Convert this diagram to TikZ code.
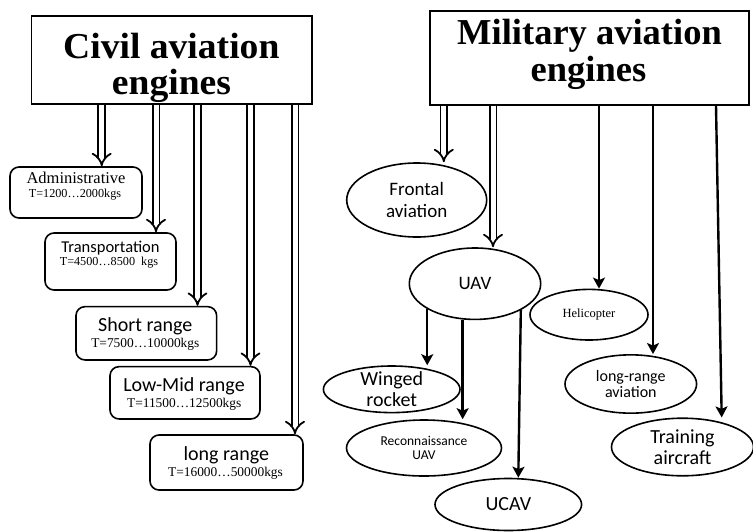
\documentclass[tikz,border=0pt]{standalone}
\usepackage{fontspec}
\usepackage{graphicx}
\setmainfont{Liberation Serif}
\newfontfamily\sansf{Carlito}
\usetikzlibrary{shapes.geometric,arrows.meta}
\begin{document}
\begin{tikzpicture}[x=1pt,y=-1pt,
  titlebox/.style={draw,line width=1.8pt,inner sep=0pt},
  cbox/.style={draw,rounded corners=9pt,line width=1.6pt,inner sep=0pt},
  ell/.style={draw,ellipse,line width=1.6pt,inner sep=0pt},
  darr/.style={double,double distance=5pt,line width=1.8pt,-{Implies[length=7pt,width=17pt]}},
  sarr/.style={line width=2.4pt,-{Stealth[length=11pt,width=12pt,inset=2.5pt]}},
  ttl/.style={anchor=base,inner sep=0pt,font=\fontsize{36.5}{40}\selectfont\bfseries},
  sbig/.style={anchor=base,inner sep=0pt,font=\sansf\fontsize{20}{24}\selectfont},
  tline/.style={anchor=base,inner sep=0pt,font=\fontsize{13.4}{16}\selectfont},
  etext/.style={inner sep=0pt,align=center}
]
\useasboundingbox (0,0) rectangle (753,531);

% ---------- Civil ----------
\node[titlebox,minimum width=280.5pt,minimum height=88pt] (civil) at (171.75,60) {};
\node[ttl] (civilA) at (171.3,58.5) {\scalebox{1.03}[1]{Civil aviation}};
\node[ttl] (civilB) at (171.5,94.5) {\scalebox{1.03}[1]{engines}};

\node[cbox,minimum width=132pt,minimum height=51pt] (admin) at (76,192.5) {};
\node[anchor=base,inner sep=0pt,font=\fontsize{16.5}{18}\selectfont] (adminA) at (76,183) {Administrative};
\node[anchor=base,inner sep=0pt,font=\fontsize{12.2}{14}\selectfont] (adminB) at (75,197) {T=1200…2000kgs};

\node[cbox,minimum width=131pt,minimum height=57pt] (trans) at (110.5,261.5) {};
\node[anchor=base,inner sep=0pt,font=\sansf\fontsize{16.5}{18}\selectfont] (transA) at (110.5,252) {Transportation};
\node[anchor=base,inner sep=0pt,font=\fontsize{12.2}{14}\selectfont] (transB) at (109,265.5) {T=4500…8500\ \ kgs};

\node[cbox,minimum width=140.7pt,minimum height=53.3pt] (short) at (146.3,333.3) {};
\node[sbig] (shortA) at (145.3,331.7) {Short range};
\node[tline] (shortB) at (145.3,347) {T=7500…10000kgs};

\node[cbox,minimum width=150pt,minimum height=52.3pt] (lowmid) at (185,392.8) {};
\node[sbig] (lowA) at (184,391.7) {Low-Mid range};
\node[tline] (lowB) at (184.2,407.7) {T=11500…12500kgs};

\node[cbox,minimum width=153pt,minimum height=55pt] (longr) at (226.5,462.5) {};
\node[sbig] (longA) at (226.3,460.7) {long range};
\node[tline] (longB) at (225.5,476.7) {T=16000…50000kgs};

\coordinate (c1) at (101.7,0);
\coordinate (c2) at (156,0);
\coordinate (c3) at (197.5,0);
\coordinate (c4) at (250.5,0);
\coordinate (c5) at (295,0);
\draw[darr] (civil.south -| c1) -- (admin.north -| c1);
\draw[darr] (civil.south -| c2) -- (trans.north -| c2);
\draw[darr] (civil.south -| c3) -- (short.north -| c3);
\draw[darr] (civil.south -| c4) -- (lowmid.north -| c4);
\draw[darr] (civil.south -| c5) -- (longr.north -| c5);

% ---------- Military ----------
\node[titlebox,minimum width=319pt,minimum height=94pt] (mil) at (589.2,57.7) {};
\node[ttl] (milA) at (589.5,44.7) {Military aviation};
\node[ttl] (milB) at (588.5,81.3) {engines};

\node[ell,minimum width=140pt,minimum height=74pt] (frontal) at (416.7,200) {};
\node[etext,font=\sansf\fontsize{19}{21.5}\selectfont] (frontalT) at (frontal.center) {Frontal\\aviation};

\node[ell,minimum width=131.4pt,minimum height=71.4pt] (uav) at (475,283.7) {};
\node[etext,font=\sansf\fontsize{19}{21.5}\selectfont] (uavT) at (uav.center) {UAV};

\node[ell,minimum width=118pt,minimum height=50.6pt] (heli) at (589,314.7) {};
\node[etext,font=\fontsize{12.5}{14}\selectfont] (heliT) at (heli.center) {Helicopter};

\node[ell,minimum width=136.6pt,minimum height=46.6pt] (wing) at (391.7,389.3) {};
\node[etext,font=\sansf\fontsize{20}{21}\selectfont] (wingT) at (wing.center) {Winged\\rocket};

\node[ell,minimum width=155pt,minimum height=56pt] (recon) at (424,448) {};
\node[etext,font=\sansf\fontsize{13.5}{13.5}\selectfont] (reconT) at (recon.center) {Reconnaissance\\UAV};

\node[ell,minimum width=146.6pt,minimum height=52pt] (ucav) at (508.3,504.5) {};
\node[etext,font=\sansf\fontsize{20}{24}\selectfont] (ucavT) at (ucav.center) {UCAV};

\node[ell,minimum width=131.6pt,minimum height=58.3pt] (lrange) at (630.8,384) {};
\node[etext,font=\sansf\fontsize{16}{16}\selectfont] (lrangeT) at (lrange.center) {long-range\\aviation};

\node[ell,minimum width=142pt,minimum height=57.6pt] (train) at (682.5,447) {};
\node[etext,font=\sansf\fontsize{20}{21}\selectfont] (trainT) at (train.center) {Training\\aircraft};

\coordinate (m1) at (443.8,0);
\coordinate (m2) at (493,0);
\coordinate (m3) at (599,0);
\coordinate (m4) at (653,0);
\coordinate (m5a) at (716,0);
\coordinate (m5b) at (721.7,0);
\coordinate (u3) at (518.3,0);
\draw[darr] (mil.south -| m1) -- (frontal.north -| m1);
\draw[darr] (mil.south -| m2) -- (uav.north -| m2);
\draw[sarr] (mil.south -| m3) -- (heli.north -| m3);
\draw[sarr] (mil.south -| m4) -- (lrange.north -| m4);
\draw[sarr] (mil.south -| m5a) -- (train.north -| m5b);

\draw[sarr] (uav.208) -- (uav.208 |- wing.north);
\draw[sarr] (uav.251) -- (uav.251 |- recon.north);
\draw[sarr] (uav.-30) -- (ucav.north -| u3);
\end{tikzpicture}
\end{document}
